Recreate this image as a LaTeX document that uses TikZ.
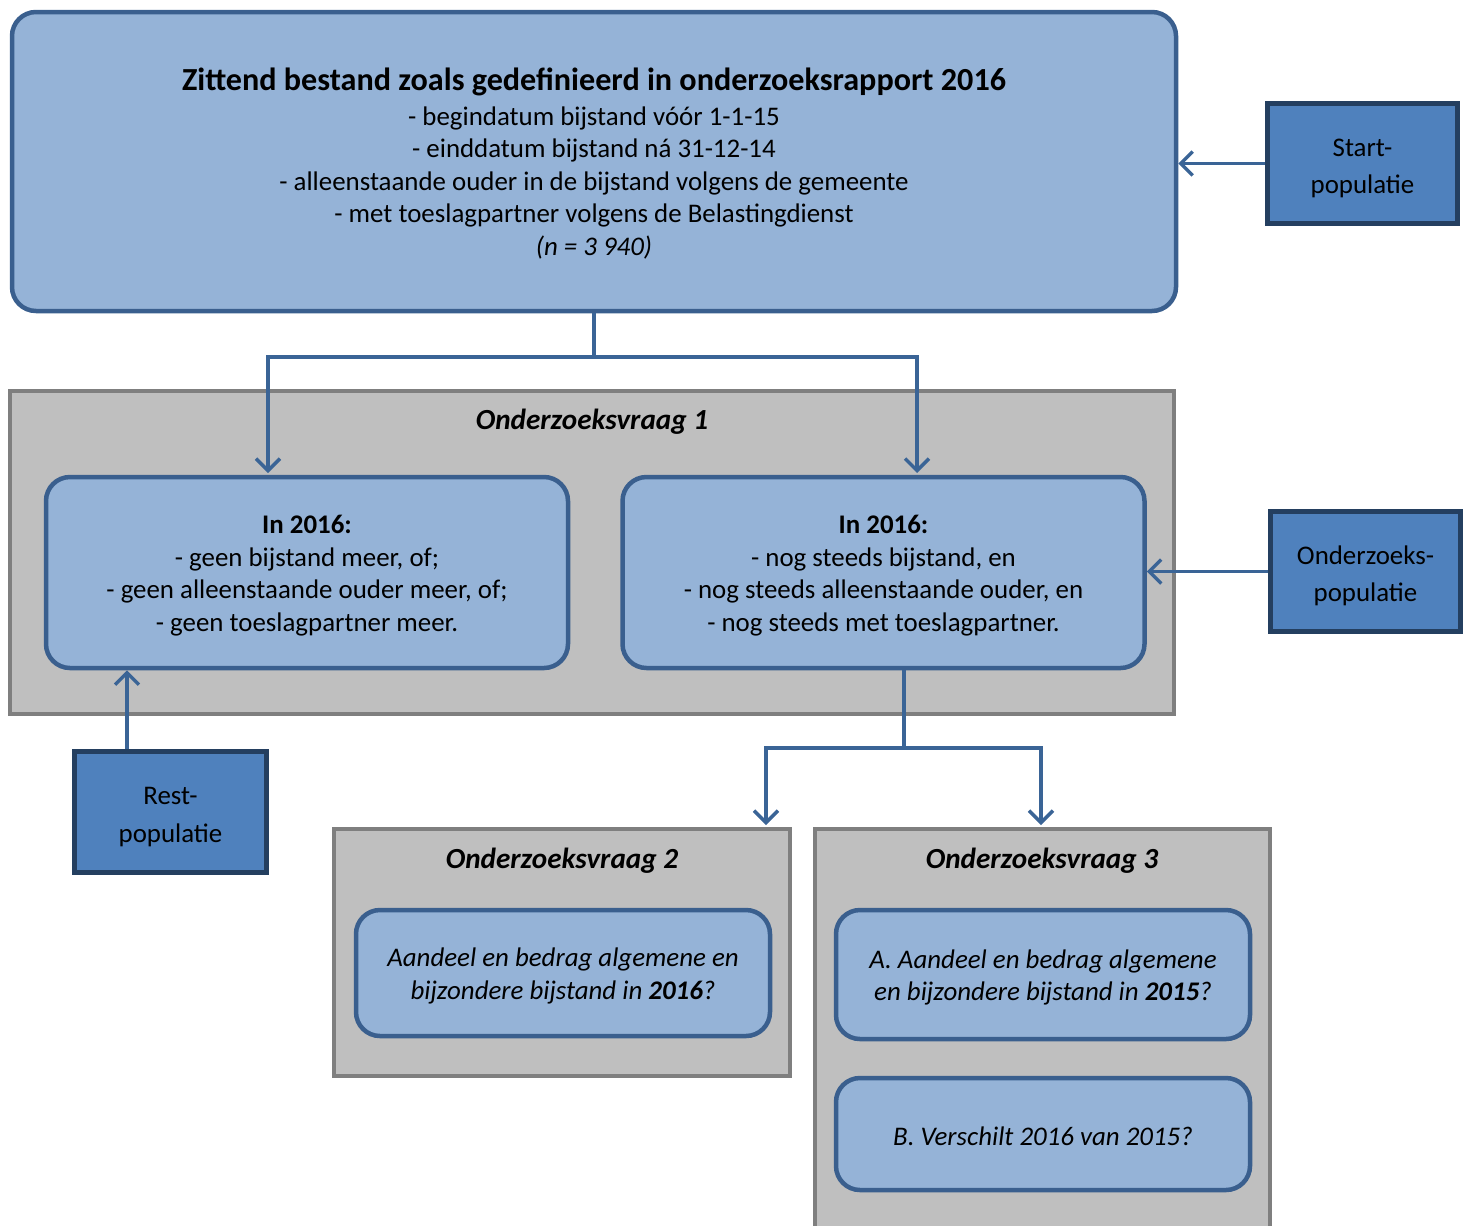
\documentclass[tikz,border=0pt]{standalone}
\usepackage{fontspec}
\setmainfont{Carlito}
\usetikzlibrary{arrows.meta,positioning,calc}
\newlength\pxu
\setlength\pxu{0.2mm}
\newcommand\zak[1]{\rule{0pt}{#1}}
\definecolor{lb}{HTML}{95B3D7}
\definecolor{lbd}{HTML}{3A5F8E}
\definecolor{mb}{HTML}{4F81BD}
\definecolor{db}{HTML}{243F60}
\definecolor{gr}{HTML}{BFBFBF}
\definecolor{grd}{HTML}{7F7F7F}
\definecolor{ln}{HTML}{3A6496}
\tikzset{
    box/.style =    {rectangle,
                    rounded corners=24\pxu,
                    fill=lb,
                    draw=lbd,
                    text=black,
                    line width=4.5\pxu,
                    inner sep=0pt,
                    align=center},
    pop/.style =    {rectangle,
                    fill=mb,
                    draw=db,
                    text=black,
                    line width=5\pxu,
                    inner sep=0pt,
                    minimum width=190\pxu,
                    minimum height=120\pxu,
                    align=center,
                    font=\fontsize{15.3}{21.5}\selectfont},
    vraag/.style =  {rectangle,
                    fill=gr,
                    draw=grd,
                    line width=4\pxu,
                    inner sep=0pt},
    titel/.style =  {font=\fontsize{16.6}{18.5}\selectfont\bfseries\itshape},
    flow/.style =   {draw=ln,
                    line width=3.5\pxu},
    >={Straight Barb[length=2.4mm,width=4.8mm]}}

\begin{document}
\begin{tikzpicture}[x=\pxu,y=-\pxu,font=\fontsize{15.3}{18.5}\selectfont]
    \clip (0,0) rectangle (1464,1225);
    % bovenste blok
    \node[box, minimum width=1164\pxu, minimum height=299\pxu] (top) at (594,161.5)
        {\zak{15pt}\textbf{\fontsize{18.3}{22}\selectfont Zittend bestand zoals gedefinieerd in onderzoeksrapport 2016}\\[1.4pt]
         - begindatum bijstand vóór 1-1-15\\
         - einddatum bijstand ná 31-12-14\\
         - alleenstaande ouder in de bijstand volgens de gemeente\\
         - met toeslagpartner volgens de Belastingdienst\\
         \textit{(n = 3 940)}};
    \node[pop] (start) at (1362.5,163.5) {\zak{15.5pt}Start-\\populatie};

    % onderzoeksvraag 1
    \node[vraag, minimum width=1164\pxu, minimum height=323\pxu] (ov1) at (592,552.5) {};
    \node[titel] (ov1t) at (592,422) {Onderzoeksvraag 1};
    \node[box, minimum width=522\pxu, minimum height=191\pxu] (links) at (307,572.5)
        {\zak{14pt}\textbf{In 2016:}\\
         - geen bijstand meer, of;\\
         - geen alleenstaande ouder meer, of;\\
         - geen toeslagpartner meer.};
    \node[box, minimum width=522\pxu, minimum height=191\pxu] (rechts) at (883.5,572.5)
        {\zak{14pt}\textbf{In 2016:}\\
         - nog steeds bijstand, en\\
         - nog steeds alleenstaande ouder, en\\
         - nog steeds met toeslagpartner.};
    \node[pop] (onz) at (1365.5,571.5) {\zak{15.5pt}Onderzoeks-\\populatie};
    \node[pop, minimum width=192\pxu, minimum height=121\pxu] (rest) at (170.5,812) {\zak{15.5pt}Rest-\\populatie};

    % onderzoeksvraag 2 en 3
    \node[vraag, minimum width=456\pxu, minimum height=247\pxu] (ov2) at (562,952.5) {};
    \node[titel] (ov2t) at (562,861) {Onderzoeksvraag 2};
    \node[box, minimum width=414\pxu, minimum height=126\pxu, font=\fontsize{15.3}{18.5}\selectfont\itshape] (v2) at (563,973)
        {\zak{14pt}Aandeel en bedrag algemene en\\
         bijzondere bijstand in \textbf{2016}?};
    \node[vraag, minimum width=455\pxu, minimum height=409\pxu] (ov3) at (1042.5,1033.5) {};
    \node[titel] (ov3t) at (1042,861) {Onderzoeksvraag 3};
    \node[box, minimum width=414\pxu, minimum height=129\pxu, font=\fontsize{15.3}{18.5}\selectfont\itshape] (v3a) at (1043,974.5)
        {\zak{14pt}A. Aandeel en bedrag algemene\\
         en bijzondere bijstand in \textbf{2015}?};
    \node[box, minimum width=414\pxu, minimum height=112\pxu, font=\fontsize{15.3}{18.5}\selectfont\itshape] (v3b) at (1043,1134)
        {\zak{13pt}B. Verschilt 2016 van 2015?};

    % verbindingen
    \coordinate (s1) at (594,357);
    \coordinate (inL) at (268,473);
    \coordinate (inR) at (917,473);
    \coordinate (r0) at (127,749);
    \coordinate (s2) at (904,748);
    \coordinate (in2) at (766,825);
    \coordinate (in3) at (1041,825);
    \path [flow]    (top.south) edge [] (s1)
                    (s1) edge [->, to path={-| (\tikztotarget)}] (inL)
                    (s1) edge [->, to path={-| (\tikztotarget)}] (inR)
                    (start.west) edge [->] (start.west -| top.east)
                    (onz.west) edge [->] (onz.west -| rechts.east)
                    (r0) edge [->] (r0 |- links.south)
                    (s2 |- rechts.south) edge [] (s2)
                    (s2) edge [->, to path={-| (\tikztotarget)}] (in2)
                    (s2) edge [->, to path={-| (\tikztotarget)}] (in3);
\end{tikzpicture}
\end{document}
